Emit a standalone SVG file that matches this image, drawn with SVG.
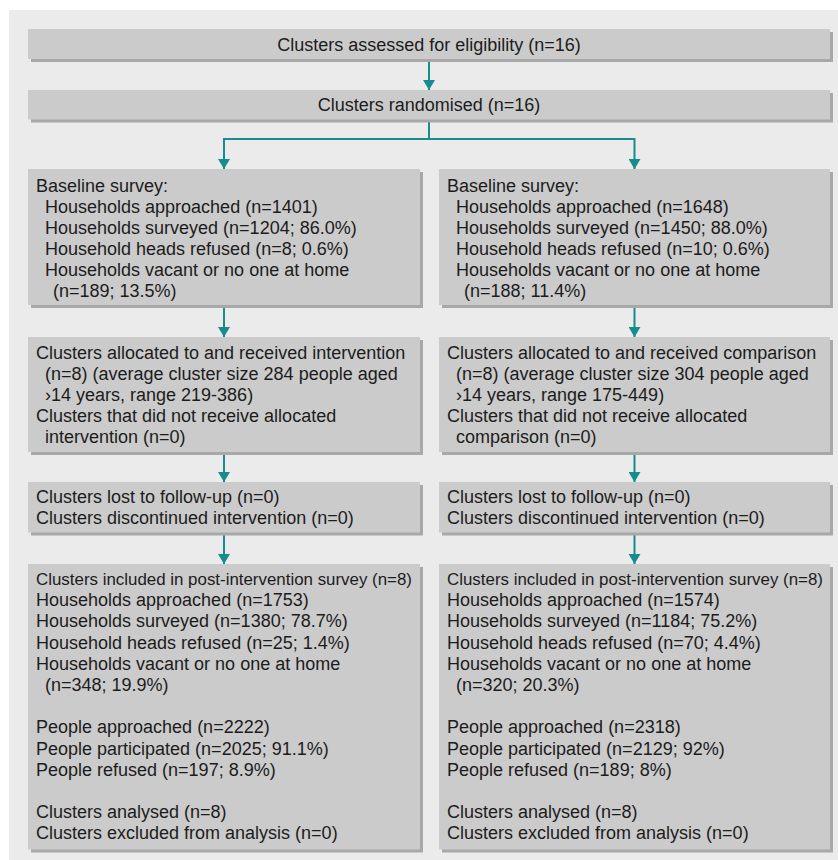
<svg xmlns="http://www.w3.org/2000/svg" width="838" height="860" viewBox="0 0 838 860">
<style>
.panel{fill:#ebebeb}
.box{fill:#cbcbcb}
.shadow{fill:#a8a8a8}
text{font-family:"Liberation Sans",Arial,sans-serif;font-size:18px;fill:#1c1c1c}
.c{text-anchor:middle}
.tight{font-size:16.9px}
.conn{fill:none;stroke:#168c8c;stroke-width:2}
</style>
<defs>
<marker id="ah" markerUnits="userSpaceOnUse" markerWidth="10" markerHeight="12" viewBox="0 0 10 12" refX="10" refY="6" orient="auto">
<path d="M0,0 L10,6 L0,12 z" fill="#168c8c"/>
</marker>
</defs>
<rect class="panel" x="9" y="10" width="829" height="850"/>

<g id="connectors">
<path class="conn" d="M429,62 V90" marker-end="url(#ah)"/>
<path class="conn" d="M429,122 V139 H224 V169" marker-end="url(#ah)"/>
<path class="conn" d="M429,139 H634.5 V169" marker-end="url(#ah)"/>
<path class="conn" d="M224,308 V337" marker-end="url(#ah)"/>
<path class="conn" d="M224,455 V482" marker-end="url(#ah)"/>
<path class="conn" d="M224,535 V564" marker-end="url(#ah)"/>
<path class="conn" d="M634.5,308 V337" marker-end="url(#ah)"/>
<path class="conn" d="M634.5,455 V482" marker-end="url(#ah)"/>
<path class="conn" d="M634.5,535 V564" marker-end="url(#ah)"/>
</g>

<g id="eligibility">
<rect class="shadow" x="31" y="32" width="802" height="30"/>
<rect class="box" x="28" y="29" width="802" height="30"/>
<text class="c" x="429" y="50.5">Clusters assessed for eligibility (n=16)</text>
</g>

<g id="randomised">
<rect class="shadow" x="31" y="93" width="802" height="29.5"/>
<rect class="box" x="28" y="90" width="802" height="29.5"/>
<text class="c" x="429" y="111">Clusters randomised (n=16)</text>
</g>

<g id="baseline-intervention">
<rect class="shadow" x="31" y="172" width="392" height="136"/>
<rect class="box" x="28" y="169" width="392" height="136"/>
<text x="36" y="191.5">Baseline survey:</text>
<text x="45" y="212.5">Households approached (n=1401)</text>
<text x="45" y="233.6">Households surveyed (n=1204; 86.0%)</text>
<text x="45" y="254.7">Household heads refused (n=8; 0.6%)</text>
<text x="45" y="275.8">Households vacant or no one at home</text>
<text x="53" y="296.9">(n=189; 13.5%)</text>
</g>

<g id="baseline-comparison">
<rect class="shadow" x="442" y="172" width="391" height="136"/>
<rect class="box" x="439" y="169" width="391" height="136"/>
<text x="447" y="191.5">Baseline survey:</text>
<text x="456" y="212.5">Households approached (n=1648)</text>
<text x="456" y="233.6">Households surveyed (n=1450; 88.0%)</text>
<text x="456" y="254.7">Household heads refused (n=10; 0.6%)</text>
<text x="456" y="275.8">Households vacant or no one at home</text>
<text x="464" y="296.9">(n=188; 11.4%)</text>
</g>

<g id="allocated-intervention">
<rect class="shadow" x="31" y="340" width="392" height="115"/>
<rect class="box" x="28" y="337" width="392" height="115"/>
<text x="36" y="358.5">Clusters allocated to and received intervention</text>
<text x="45" y="379.6">(n=8) (average cluster size 284 people aged</text>
<text x="45" y="400.7">›14 years, range 219-386)</text>
<text x="36" y="421.8">Clusters that did not receive allocated</text>
<text x="45" y="442.9">intervention (n=0)</text>
</g>

<g id="allocated-comparison">
<rect class="shadow" x="442" y="340" width="391" height="115"/>
<rect class="box" x="439" y="337" width="391" height="115"/>
<text x="447" y="358.5">Clusters allocated to and received comparison</text>
<text x="456" y="379.6">(n=8) (average cluster size 304 people aged</text>
<text x="456" y="400.7">›14 years, range 175-449)</text>
<text x="447" y="421.8">Clusters that did not receive allocated</text>
<text x="456" y="442.9">comparison (n=0)</text>
</g>

<g id="followup-intervention">
<rect class="shadow" x="31" y="485" width="392" height="50.5"/>
<rect class="box" x="28" y="482" width="392" height="50.5"/>
<text x="36" y="503.3">Clusters lost to follow-up (n=0)</text>
<text x="36" y="524.2">Clusters discontinued intervention (n=0)</text>
</g>

<g id="followup-comparison">
<rect class="shadow" x="442" y="485" width="391" height="50.5"/>
<rect class="box" x="439" y="482" width="391" height="50.5"/>
<text x="447" y="503.3">Clusters lost to follow-up (n=0)</text>
<text x="447" y="524.2">Clusters discontinued intervention (n=0)</text>
</g>

<g id="post-intervention">
<rect class="shadow" x="31" y="567" width="392" height="285.5"/>
<rect class="box" x="28" y="564" width="392" height="285.5"/>
<text class="tight" x="36" y="585">Clusters included in post-intervention survey (n=8)</text>
<text x="36" y="606.2">Households approached (n=1753)</text>
<text x="36" y="627.4">Households surveyed (n=1380; 78.7%)</text>
<text x="36" y="648.6">Household heads refused (n=25; 1.4%)</text>
<text x="36" y="669.8">Households vacant or no one at home</text>
<text x="45" y="691">(n=348; 19.9%)</text>
<text x="36" y="733.4">People approached (n=2222)</text>
<text x="36" y="754.6">People participated (n=2025; 91.1%)</text>
<text x="36" y="775.8">People refused (n=197; 8.9%)</text>
<text x="36" y="818.2">Clusters analysed (n=8)</text>
<text x="36" y="839.4">Clusters excluded from analysis (n=0)</text>
</g>

<g id="post-comparison">
<rect class="shadow" x="442" y="567" width="391" height="285.5"/>
<rect class="box" x="439" y="564" width="391" height="285.5"/>
<text class="tight" x="447" y="585">Clusters included in post-intervention survey (n=8)</text>
<text x="447" y="606.2">Households approached (n=1574)</text>
<text x="447" y="627.4">Households surveyed (n=1184; 75.2%)</text>
<text x="447" y="648.6">Household heads refused (n=70; 4.4%)</text>
<text x="447" y="669.8">Households vacant or no one at home</text>
<text x="456" y="691">(n=320; 20.3%)</text>
<text x="447" y="733.4">People approached (n=2318)</text>
<text x="447" y="754.6">People participated (n=2129; 92%)</text>
<text x="447" y="775.8">People refused (n=189; 8%)</text>
<text x="447" y="818.2">Clusters analysed (n=8)</text>
<text x="447" y="839.4">Clusters excluded from analysis (n=0)</text>
</g>
</svg>
